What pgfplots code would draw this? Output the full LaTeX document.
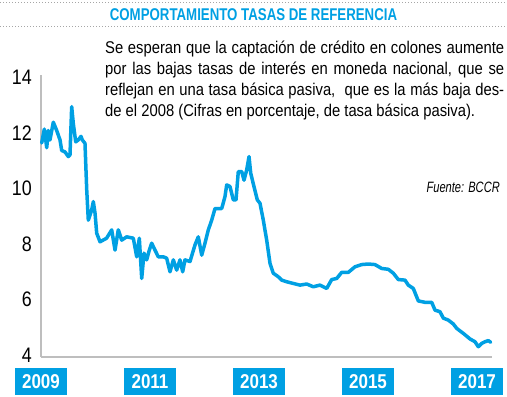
\documentclass[border=0pt]{standalone}
\usepackage{pgfplots}
\pgfplotsset{compat=1.18}
\usepackage{fontspec}
\setmainfont{Liberation Sans}
\newfontfamily\condb{Liberation Sans}[FakeStretch=0.78]
\newfontfamily\condy{Liberation Sans}[FakeStretch=0.85]
\newfontfamily\condp{Liberation Sans}[FakeStretch=0.87]
\newfontfamily\condi{Liberation Sans}[FakeStretch=0.74]
\definecolor{cy}{RGB}{0,160,227}
\definecolor{axgray}{RGB}{190,190,190}
\begin{document}
\begin{tikzpicture}
\useasboundingbox (0pt,0pt) rectangle (507pt,397pt);
% title and dotted rules
\draw[gray!70, line width=1pt, dash pattern=on 1pt off 2pt] (0pt,394pt) -- (507pt,394pt);
\draw[gray!70, line width=1pt, dash pattern=on 1pt off 2pt] (0pt,370pt) -- (507pt,370pt);
\node[anchor=base, inner sep=0pt, text=cy, font=\condb\bfseries\fontsize{17}{17}\selectfont] at (253.5pt,376pt) {COMPORTAMIENTO TASAS DE REFERENCIA};
% paragraph
\begin{scope}[every node/.style={anchor=base west, inner sep=0pt, font=\condp\fontsize{17}{20}\selectfont}]
\node at (105pt,343pt) {\makebox[399pt][s]{Se esperan que la captación de crédito en colones aumente}};
\node at (105pt,322pt) {\makebox[399pt][s]{por las bajas tasas de interés en moneda nacional, que se}};
\node at (105pt,301pt) {\makebox[399pt][s]{reflejan en una tasa básica pasiva, \ que es la más baja des-}};
\node at (105pt,280pt) {de el 2008 (Cifras en porcentaje, de tasa básica pasiva).};
\end{scope}
\node[anchor=base east, inner sep=0pt, font=\condi\itshape\fontsize{15}{15}\selectfont] at (500pt,204pt) {Fuente: BCCR};
\begin{axis}[
  at={(41pt,40pt)}, anchor=south west,
  scale only axis, width=451pt, height=282pt,
  xmin=2009, xmax=2017.275, ymin=3.93, ymax=14.09,
  axis lines=left, axis line style={-, axgray, line width=1.2pt},
  major tick length=0pt,
  clip=false,
  xtick={2009,2011,2013,2015,2017},
  xticklabels={2009,2011,2013,2015,2017},
  ytick={4,6,8,10,12,14},
  /pgf/number format/assume math mode=true,
  yticklabel style={font=\condy\fontsize{21}{21}\selectfont, inner sep=0pt, anchor=east, xshift=-9pt},
  xticklabel style={font=\condy\bfseries\fontsize{20}{20}\selectfont, fill=cy, text=white, inner sep=0pt, minimum width=52pt, minimum height=27pt, anchor=north, yshift=-11pt},
]
\addplot[cy, line width=3.5pt, line join=round, line cap=round] coordinates {
(2009.013,11.64) (2009.061,12.14) (2009.105,11.47) (2009.134,12.09) (2009.165,11.75)
(2009.226,12.39) (2009.288,12.09) (2009.349,11.75) (2009.380,11.37) (2009.440,11.32)
(2009.501,11.15) (2009.532,11.21) (2009.563,12.95) (2009.593,12.34) (2009.637,11.68)
(2009.684,11.75) (2009.734,11.88) (2009.758,11.75) (2009.807,11.63) (2009.839,9.95)
(2009.868,8.86) (2009.930,9.23) (2009.960,9.53) (2009.991,9.12) (2010.022,8.39)
(2010.083,8.08) (2010.204,8.21) (2010.297,8.51) (2010.358,7.78) (2010.418,8.51)
(2010.481,8.14) (2010.572,8.26) (2010.694,8.21) (2010.756,7.54) (2010.804,8.21)
(2010.848,6.76) (2010.890,7.67) (2010.939,7.43) (2010.987,7.78) (2011.031,8.03)
(2011.092,7.78) (2011.152,7.54) (2011.244,7.54) (2011.306,7.49) (2011.367,7.00)
(2011.428,7.43) (2011.490,7.06) (2011.550,7.43) (2011.600,7.00) (2011.642,7.43)
(2011.734,7.37) (2011.826,7.97) (2011.886,8.26) (2011.949,7.60) (2012.009,8.03)
(2012.070,8.51) (2012.132,8.86) (2012.193,9.28) (2012.316,9.28) (2012.376,9.71)
(2012.407,10.13) (2012.468,10.07) (2012.528,9.59) (2012.578,9.59) (2012.620,10.61)
(2012.683,10.61) (2012.725,10.30) (2012.774,10.67) (2012.817,11.15) (2012.848,10.55)
(2012.908,10.07) (2012.969,9.59) (2013.018,9.47) (2013.079,8.86) (2013.141,8.14)
(2013.202,7.30) (2013.262,6.95) (2013.354,6.82) (2013.417,6.70) (2013.508,6.64)
(2013.629,6.58) (2013.752,6.52) (2013.875,6.56) (2013.996,6.46) (2014.119,6.52)
(2014.242,6.40) (2014.334,6.72) (2014.426,6.76) (2014.517,6.98) (2014.639,6.98)
(2014.761,7.18) (2014.884,7.26) (2015.006,7.28) (2015.128,7.26) (2015.251,7.12)
(2015.372,7.09) (2015.464,6.95) (2015.556,6.72) (2015.679,6.70) (2015.739,6.52)
(2015.831,6.40) (2015.923,5.95) (2016.046,5.90) (2016.169,5.90) (2016.229,5.62)
(2016.321,5.56) (2016.382,5.33) (2016.473,5.26) (2016.565,5.12) (2016.628,4.96)
(2016.749,4.78) (2016.872,4.58) (2016.963,4.48) (2017.024,4.30) (2017.086,4.42)
(2017.147,4.48) (2017.208,4.52) (2017.251,4.46)
};
\end{axis}
\end{tikzpicture}
\end{document}
